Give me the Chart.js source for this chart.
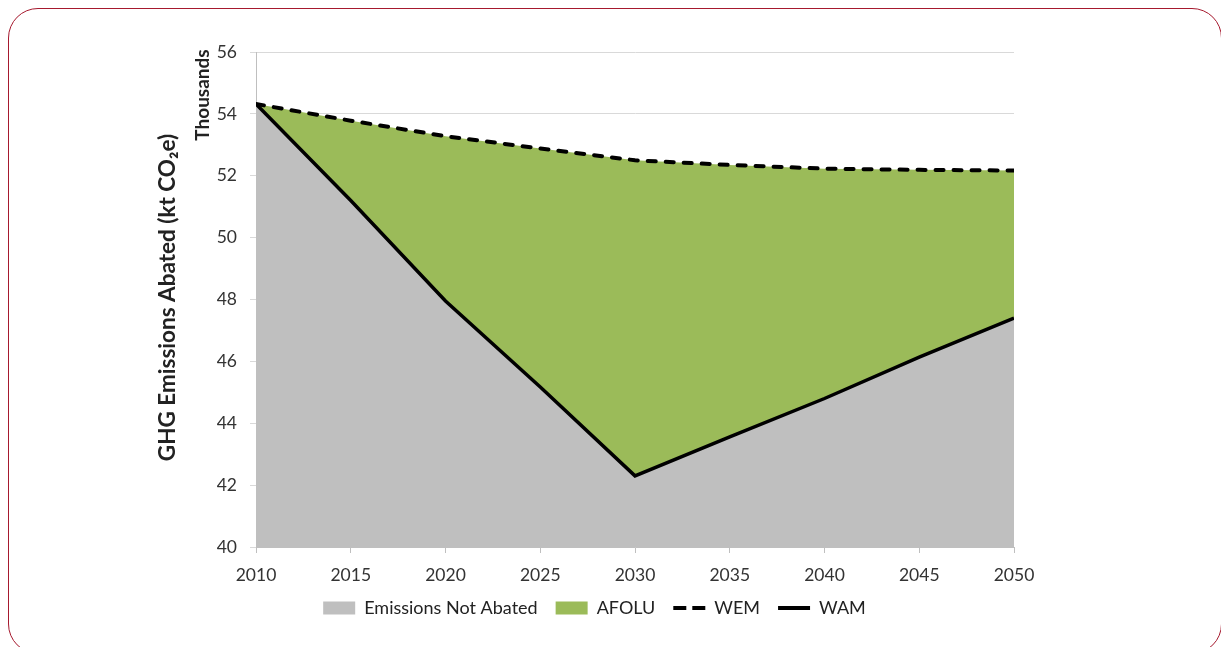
<!DOCTYPE html>
<html>
<head>
<meta charset="utf-8">
<script src="https://cdn.jsdelivr.net/npm/chart.js@4.4.1/dist/chart.umd.min.js"></script>
<style>
    html, body { margin: 0; padding: 0; background: #fff; overflow: hidden; }
    #frame {
        position: absolute; left: 8px; top: 8px; width: 1214px; height: 646px;
        border: 1.5px solid #a6192e; border-radius: 30px; box-sizing: border-box;
    }
    #wrap { position: absolute; left: 0; top: 0; width: 1221px; height: 647px; }
</style>
</head>
<body>
<div id="frame"></div>
<div id="wrap"><canvas id="ghg_chart"></canvas></div>
<script>
// values (kt CO2e, in thousands)
const years = [2010, 2015, 2020, 2025, 2030, 2035, 2040, 2045, 2050];
const wem = [54.32, 53.78, 53.28, 52.88, 52.5, 52.35, 52.23, 52.19, 52.17];
const wam = [54.32, 51.2, 47.95, 45.17, 42.3, 43.56, 44.8, 46.14, 47.4];
const yTicks = [40, 42, 44, 46, 48, 50, 52, 54, 56];
const xTicks = [2010, 2015, 2020, 2025, 2030, 2035, 2040, 2045, 2050];

const fontFamily = 'Lato, "Open Sans", sans-serif';

function pts(vals) {
    return years.map((y, i) => ({ x: y, y: vals[i] }));
}

// y axis title and the "Thousands" unit label, both rotated
const axisLabels = {
    id: 'axisLabels',
    afterDraw(chart) {
        const ctx = chart.ctx;
        const area = chart.chartArea;
        ctx.save();
        ctx.fillStyle = '#222';
        ctx.textAlign = 'center';
        ctx.textBaseline = 'middle';

        ctx.save();
        ctx.translate(168, (area.top + area.bottom) / 2 - 2);
        ctx.rotate(-Math.PI / 2);
        ctx.font = 'bold 22.5px ' + fontFamily;
        ctx.fillText('GHG Emissions Abated (kt CO\u2082e)', 0, 0);
        ctx.restore();

        ctx.translate(203, 95);
        ctx.rotate(-Math.PI / 2);
        ctx.font = 'bold 19px ' + fontFamily;
        ctx.fillText('Thousands', 0, 0);
        ctx.restore();
    }
};

function showGhgChart() {
    const ctx = document.getElementById('ghg_chart');
    new Chart(ctx, {
        type: 'line',
        data: {
            datasets: [{
                label: 'Emissions Not Abated',
                data: pts(wam),
                backgroundColor: '#bfbfbf',
                borderColor: '#bfbfbf',
                borderWidth: 0,
                fill: 'start',
                order: 3,
                legendStyle: 'rect'
            }, {
                label: 'AFOLU',
                data: pts(wem),
                backgroundColor: '#9bbb59',
                borderColor: '#9bbb59',
                borderWidth: 0,
                fill: '-1',
                order: 2,
                legendStyle: 'rect'
            }, {
                label: 'WEM',
                data: pts(wem),
                borderColor: '#000',
                backgroundColor: '#000',
                borderWidth: 4,
                borderDash: [8, 10],
                borderCapStyle: 'round',
                fill: false,
                order: 1,
                legendStyle: 'line'
            }, {
                label: 'WAM',
                data: pts(wam),
                borderColor: '#000',
                backgroundColor: '#000',
                borderWidth: 3.5,
                fill: false,
                order: 0,
                legendStyle: 'line'
            }]
        },
        options: {
            responsive: false,
            animation: false,
            elements: {
                point: { radius: 0 },
                line: { tension: 0 }
            },
            layout: {
                padding: { left: 175, right: 207, top: 52, bottom: 20 }
            },
            plugins: {
                tooltip: { enabled: false },
                legend: {
                    display: true,
                    position: 'bottom',
                    labels: {
                        usePointStyle: true,
                        pointStyleWidth: 32,
                        boxWidth: 32,
                        boxHeight: 13,
                        padding: 18,
                        color: '#222',
                        font: { family: fontFamily, size: 18 },
                        generateLabels(chart) {
                            return chart.data.datasets.map((ds, i) => ({
                                text: ds.label,
                                fillStyle: ds.backgroundColor,
                                strokeStyle: ds.borderColor,
                                lineWidth: ds.legendStyle === 'line' ? 4 : 0,
                                lineDash: ds.legendStyle === 'line' && ds.borderDash ? [13, 6] : [],
                                lineCap: 'butt',
                                pointStyle: ds.legendStyle,
                                fontColor: '#222',
                                hidden: false,
                                datasetIndex: i
                            }));
                        }
                    }
                }
            },
            scales: {
                x: {
                    type: 'linear',
                    min: 2010,
                    max: 2050,
                    afterBuildTicks: (scale) => {
                        scale.ticks = xTicks.map(v => ({ value: v }));
                    },
                    afterFit: (scale) => {
                        scale.height = 34;
                    },
                    ticks: {
                        color: '#333',
                        padding: 12,
                        maxRotation: 0,
                        font: { family: fontFamily, size: 17.5 },
                        callback: (v) => String(v)
                    },
                    grid: {
                        drawOnChartArea: false,
                        drawTicks: true,
                        tickLength: 6,
                        color: '#bfbfbf'
                    },
                    border: { display: true, color: '#bfbfbf' }
                },
                y: {
                    min: 40,
                    max: 56,
                    afterBuildTicks: (scale) => {
                        scale.ticks = yTicks.map(v => ({ value: v }));
                    },
                    afterFit: (scale) => {
                        scale.width = 81;
                    },
                    ticks: {
                        color: '#333',
                        padding: 13,
                        font: { family: fontFamily, size: 17.5 }
                    },
                    grid: {
                        color: '#d9d9d9',
                        tickLength: 6
                    },
                    border: { display: true, color: '#bfbfbf' }
                }
            }
        },
        plugins: [axisLabels]
    });
}

const canvas = document.getElementById('ghg_chart');
canvas.width = 1221;
canvas.height = 647;
showGhgChart();
</script>
</body>
</html>
